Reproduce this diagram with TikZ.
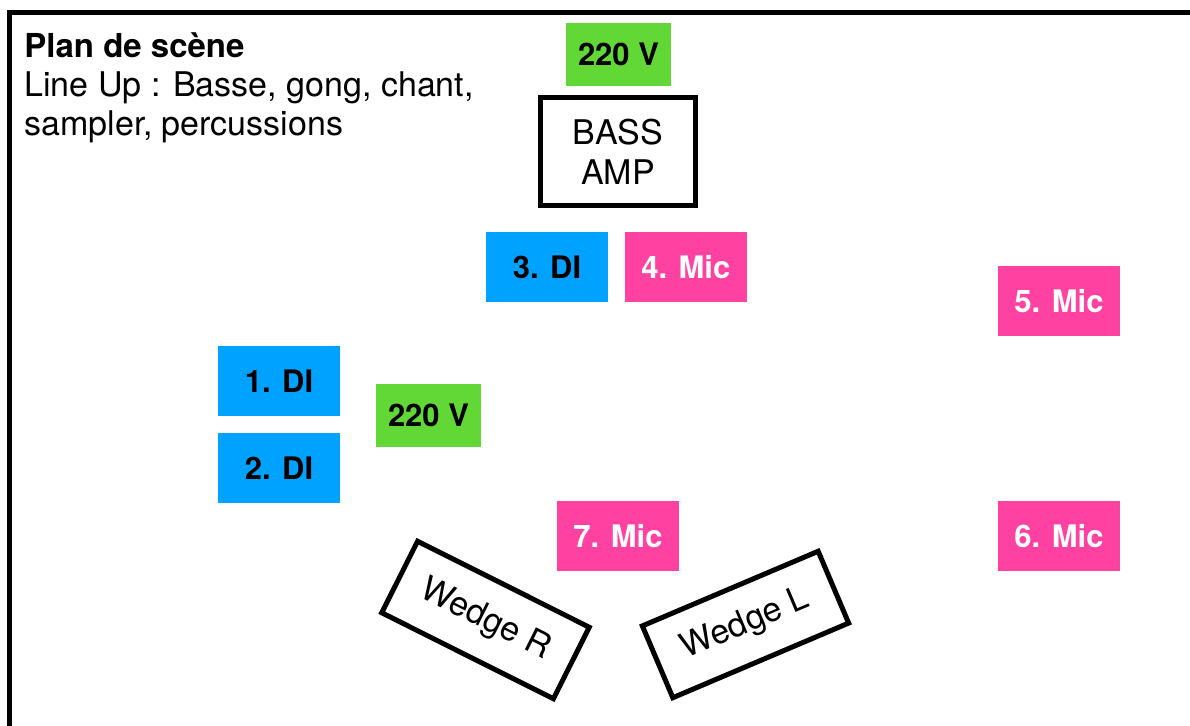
\documentclass[tikz,border=0pt]{standalone}
\usepackage{fontspec}
\setmainfont{TeX Gyre Heros}
\usepackage{xcolor}
\usetikzlibrary{positioning}

\definecolor{diblue}{HTML}{00A2FF}
\definecolor{micpink}{HTML}{FF42A1}
\definecolor{powergreen}{HTML}{61D836}

\begin{document}
\begin{tikzpicture}[x=0.5pt,y=-0.5pt,node distance=8pt,
                    every node/.style={font=\fontsize{17}{20}\selectfont},
                    channel/.style={rectangle,inner sep=0pt,minimum width=61pt,minimum height=35pt,
                                    font=\fontsize{15.5}{19.5}\selectfont\bfseries},
                    di/.style={channel,fill=diblue,text=black},
                    mic/.style={channel,fill=micpink,text=white},
                    power/.style={channel,fill=powergreen,text=black,minimum width=52.5pt,minimum height=31.5pt},
                    gear/.style={rectangle,draw,line width=2.5pt,inner sep=0pt,align=center}]

  \useasboundingbox (0,0) rectangle (1190,726);
  \clip (0,0) rectangle (1190,726);

  % stage frame
  \draw[line width=2.5pt] (9.5,13) rectangle (1200,740);

  % title
  \node[anchor=base west,inner sep=0pt,font=\fontsize{16.5}{20}\selectfont\bfseries] (title) at (24,58) {Plan de scène};
  \node[anchor=base west,inner sep=0pt] (lineup1) at (24,97) {Line Up : Basse, gong, chant,};
  \node[anchor=base west,inner sep=0pt] (lineup2) at (24,136) {sampler, percussions};

  % back line
  \node[power] (pwr1) at (618.5,54.5) {220 V};
  \node[gear,minimum width=77.5pt,minimum height=54pt] (amp) at (618,151.5) {BASS\\AMP};
  \node[di] (di3) at (547,267) {3. DI};
  \node[mic] (mic4) [right=of di3] {4. Mic};
  \node[mic] (mic5) at (1059,301) {5. Mic};

  % left side
  \node[di] (di1) at (279,381) {1. DI};
  \node[di] (di2) [below=of di1] {2. DI};
  \node[power] (pwr2) at (428.5,415.5) {220 V};

  % front
  \node[mic] (mic7) at (618,536) {7. Mic};
  \node[mic] (mic6) at (1059,536) {6. Mic};
  \node[gear,minimum width=96pt,minimum height=40pt,rotate=-26.6] (wedgeR) at (485.5,620) {Wedge R};
  \node[gear,minimum width=95.5pt,minimum height=39pt,rotate=23] (wedgeL) at (745.5,624.5) {Wedge L};

\end{tikzpicture}
\end{document}
